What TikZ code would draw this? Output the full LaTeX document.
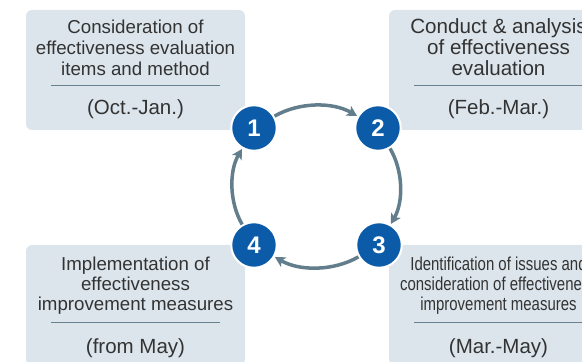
\documentclass[tikz,border=0pt]{standalone}
\usepackage{fontspec}
\setmainfont{Liberation Sans}
\usetikzlibrary{arrows.meta}
\definecolor{boxfill}{HTML}{DCE5EC}
\definecolor{numblue}{HTML}{0B5BA8}
\definecolor{ringcol}{HTML}{627D8B}
\definecolor{rulecol}{HTML}{6A8290}
\definecolor{txt}{HTML}{333333}
\tikzset{
  card/.style={fill=boxfill, rounded corners=6pt, minimum width=219pt, minimum height=120pt, inner sep=0pt, draw=none},
  body/.style={anchor=base, inner sep=0pt, text=txt, font=\fontsize{18.7}{21}\selectfont},
  bodybig/.style={anchor=base, inner sep=0pt, text=txt, font=\fontsize{20.6}{21}\selectfont},
  datefont/.style={anchor=base, inner sep=0pt, text=txt, font=\fontsize{20.5}{22}\selectfont},
  sep/.style={draw=rulecol, line width=1pt},
  num/.style={circle, fill=numblue, draw=white, line width=2pt, minimum size=45.5pt, inner sep=0pt, text=white, font=\fontsize{24}{24}\selectfont\bfseries},
  ring/.style={draw=ringcol, line width=3.5pt, -{Stealth[length=10pt,width=11pt,inset=2.5pt]}, bend left=30, looseness=0.88, shorten >=0.5pt}
}
\begin{document}
\begin{tikzpicture}[x=1pt,y=1pt]
\useasboundingbox (0,0) rectangle (582,362);
\clip (0,0) rectangle (582,362);
% cards
\node[card] (b1) at (135.5,292) {};
\node[card] (b2) at (498.5,292) {};
\node[card] (b3) at (498.5,57) {};
\node[card] (b4) at (135.5,57) {};
% card 1
\node[body] (t11) at (135.5,328) {Consideration of};
\node[body] (t12) at (135.5,307) {effectiveness evaluation};
\node[body] (t13) at (135.5,286) {items and method};
\draw[sep] (51,276) -- (220,276);
\node[datefont] (d1) at (135.5,247) {(Oct.-Jan.)};
% card 2
\node[bodybig] (t21) at (498.5,328) {Conduct \& analysis};
\node[bodybig] (t22) at (498.5,307) {of effectiveness};
\node[bodybig] (t23) at (498.5,286) {evaluation};
\draw[sep] (414,276) -- (583,276);
\node[datefont] (d2) at (498.5,247) {(Feb.-Mar.)};
% card 3
\node[body] (t31) at (498.5,91) {\scalebox{0.8}[1]{Identification of issues and}};
\node[body] (t32) at (498.5,71) {\scalebox{0.8}[1]{consideration of effectiveness}};
\node[body] (t33) at (498.5,51) {\scalebox{0.8}[1]{improvement measures}};
\draw[sep] (414,39) -- (583,39);
\node[datefont] (d3) at (498.5,8) {(Mar.-May)};
% card 4
\node[body] (t41) at (135.5,91) {Implementation of};
\node[body] (t42) at (135.5,71) {effectiveness};
\node[body] (t43) at (135.5,51) {improvement measures};
\draw[sep] (51,39) -- (220,39);
\node[datefont] (d4) at (135.5,8) {(from May)};
% numbered circles
\node[num] (n1) at (254,234) {1};
\node[num] (n2) at (378,234) {2};
\node[num] (n3) at (379,117) {3};
\node[num] (n4) at (254,117) {4};
% ring
\draw[ring] (n1) to (n2);
\draw[ring] (n2) to (n3);
\draw[ring] (n3) to (n4);
\draw[ring] (n4) to (n1);
\end{tikzpicture}
\end{document}
